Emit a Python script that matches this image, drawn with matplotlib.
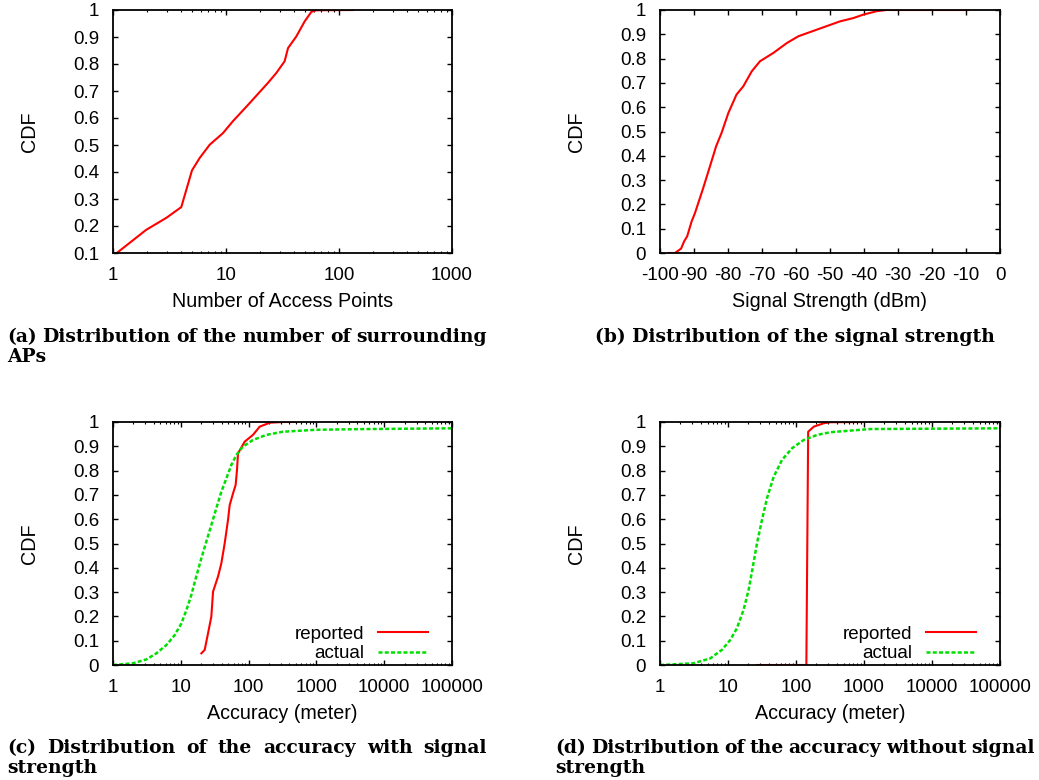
import numpy as np
import matplotlib
matplotlib.use("Agg")
import matplotlib.pyplot as plt
from matplotlib.ticker import LogLocator, NullFormatter

# ---------------- data ----------------
a_x = [1.08, 1.97, 2.96, 4.02, 5.0, 5.85, 7.17, 9.4, 11.5, 15.7, 23.5, 27.9,
       33.0, 35.4, 41.9, 49.7, 56.9, 63, 134]
a_y = [0.10, 0.186, 0.23, 0.27, 0.406, 0.452, 0.501, 0.544, 0.588, 0.649,
       0.73, 0.767, 0.81, 0.859, 0.902, 0.958, 0.993, 0.999, 1.0]

b_x = [-97.5, -95.6, -93.8, -92.9, -92.0, -90.7, -89.7, -87.3, -85.3, -83.5,
       -81.9, -79.9, -77.5, -75.5, -73.0, -70.6, -66.7, -62.7, -59.3, -53.9,
       -47.1, -43.1, -40.2, -36.3, -33.4, -9.3]
b_y = [0, 0, 0.018, 0.048, 0.069, 0.13, 0.165, 0.267, 0.357, 0.439, 0.494,
       0.576, 0.652, 0.686, 0.748, 0.789, 0.823, 0.864, 0.892, 0.919, 0.953,
       0.967, 0.981, 0.995, 1.0, 1.0]

c_rep_x = [20.1, 22.5, 25.2, 28.2, 29.9, 35.4, 39.6, 44.4, 49.7, 52.6, 58.9,
           64.4, 67.4, 69.8, 87.5, 116, 146, 205, 321, 508]
c_rep_y = [0.048, 0.062, 0.13, 0.199, 0.302, 0.364, 0.418, 0.501, 0.597,
           0.658, 0.706, 0.741, 0.802, 0.871, 0.919, 0.947, 0.981, 0.997,
           1.0, 1.0]
c_act_x = [1, 1.97, 3.1, 4.36, 6.12, 8.12, 10.2, 12.1, 14.3, 16.9, 20.1, 23.8,
           28.2, 33.4, 39.6, 47, 55.6, 65.9, 82.6, 116, 183, 321, 1000, 5480,
           100000]
c_act_y = [0, 0.007, 0.023, 0.048, 0.082, 0.123, 0.171, 0.226, 0.288, 0.364,
           0.439, 0.508, 0.576, 0.645, 0.713, 0.768, 0.823, 0.864, 0.899,
           0.926, 0.947, 0.96, 0.968, 0.971, 0.974]

d_rep_x = [26.7, 142, 151, 183, 257, 321, 920]
d_rep_y = [0, 0, 0.96, 0.981, 0.995, 0.999, 1.0]
d_act_x = [1, 3.1, 5.46, 8.12, 10.8, 13.5, 16.9, 20.1, 22.5, 26.7, 31.6, 37.4,
           47, 62.3, 87.5, 130, 205, 321, 1220, 100000]
d_act_y = [0, 0.007, 0.027, 0.062, 0.103, 0.151, 0.226, 0.309, 0.384, 0.501,
           0.597, 0.686, 0.775, 0.844, 0.892, 0.926, 0.947, 0.958, 0.971,
           0.974]

a_xticks = [1, 10, 100, 1000]
a_xticklabels = ["1", "10", "100", "1000"]
b_xticks = [-100, -90, -80, -70, -60, -50, -40, -30, -20, -10, 0]
b_xticklabels = ["-100", "-90", "-80", "-70", "-60", "-50", "-40", "-30",
                 "-20", "-10", "0"]
acc_xticks = [1, 10, 100, 1000, 10000, 100000]
acc_xticklabels = ["1", "10", "100", "1000", "10000", "100000"]
cdf_ticks_a = [0.1, 0.2, 0.3, 0.4, 0.5, 0.6, 0.7, 0.8, 0.9, 1.0]
cdf_ticks = [0, 0.1, 0.2, 0.3, 0.4, 0.5, 0.6, 0.7, 0.8, 0.9, 1.0]
cdf_ticklabels_a = ["0.1", "0.2", "0.3", "0.4", "0.5", "0.6", "0.7", "0.8",
                    "0.9", "1"]
cdf_ticklabels = ["0"] + cdf_ticklabels_a

captions = {
    "a": ["(a) Distribution of the number of surrounding", "APs"],
    "b": ["(b) Distribution of the signal strength"],
    "c": ["(c) Distribution of the accuracy with signal", "strength"],
    "d": ["(d) Distribution of the accuracy without signal", "strength"],
}

# ---------------- style ----------------
RED = "#ff0000"
GREEN = "#00e000"
FS = 13.5
LFS = 14.2
SANS = ["Liberation Sans", "DejaVu Sans"]
plt.rcParams["font.family"] = SANS
plt.rcParams["font.size"] = FS

W, H = 1039, 780
fig = plt.figure(figsize=(W / 100, H / 100), dpi=100)


def px_axes(l, t, r, b):
    return fig.add_axes([l / W, 1 - b / H, (r - l) / W, (b - t) / H])


ax_a = px_axes(113, 10, 452, 253)
ax_b = px_axes(660, 10, 1000, 253)
ax_c = px_axes(113, 422, 452, 665)
ax_d = px_axes(660, 422, 1000, 665)


def style(ax, xlabel):
    for s in ax.spines.values():
        s.set_linewidth(1.3)
    ax.tick_params(which="major", direction="in", top=True, right=True,
                   length=3.3, width=1, labelsize=FS, pad=10)
    ax.tick_params(which="minor", direction="in", top=True, right=True,
                   length=1.7, width=0.8)
    ax.set_ylabel("CDF", fontsize=LFS)
    ax.yaxis.set_label_coords(-0.218, 0.5)
    ax.set_xlabel(xlabel, fontsize=LFS)
    ax.xaxis.set_label_coords(0.5, -0.16)


# (a)
ax_a.plot(a_x, a_y, color=RED, lw=1.5)
ax_a.set_xscale("log")
ax_a.set_xlim(1, 1000)
ax_a.set_ylim(0.1, 1)
ax_a.set_xticks(a_xticks)
ax_a.set_xticklabels(a_xticklabels)
ax_a.xaxis.set_minor_locator(LogLocator(base=10, subs=np.arange(2, 10)))
ax_a.xaxis.set_minor_formatter(NullFormatter())
ax_a.set_yticks(cdf_ticks_a)
ax_a.set_yticklabels(cdf_ticklabels_a)
style(ax_a, "Number of Access Points")

# (b)
ax_b.plot(b_x, b_y, color=RED, lw=1.5)
ax_b.set_xlim(-100, 0)
ax_b.set_ylim(0, 1)
ax_b.set_xticks(b_xticks)
ax_b.set_xticklabels(b_xticklabels)
ax_b.set_yticks(cdf_ticks)
ax_b.set_yticklabels(cdf_ticklabels)
style(ax_b, "Signal Strength (dBm)")

# (c), (d)
for ax, rx, ry, gx, gy in [(ax_c, c_rep_x, c_rep_y, c_act_x, c_act_y),
                           (ax_d, d_rep_x, d_rep_y, d_act_x, d_act_y)]:
    ax.plot(rx, ry, color=RED, lw=1.5, label="reported")
    ax.plot(gx, gy, color=GREEN, lw=1.8, ls=(0, (1.6, 0.9)), label="actual")
    ax.set_xscale("log")
    ax.set_xlim(1, 100000)
    ax.set_ylim(0, 1)
    ax.set_xticks(acc_xticks)
    ax.set_xticklabels(acc_xticklabels)
    ax.xaxis.set_minor_locator(LogLocator(base=10, subs=np.arange(2, 10)))
    ax.xaxis.set_minor_formatter(NullFormatter())
    ax.set_yticks(cdf_ticks)
    ax.set_yticklabels(cdf_ticklabels)
    style(ax, "Accuracy (meter)")
    ax.legend(loc="lower right", bbox_to_anchor=(0.929, 0.012), frameon=False,
              markerfirst=False, handlelength=2.67, handletextpad=0.7,
              labelspacing=0.12, borderpad=0, borderaxespad=0, fontsize=FS)

# ---------------- captions ----------------
renderer = fig.canvas.get_renderer()
CAP_FAMILY = ["DejaVu Serif"]
probe = fig.text(0, 0, captions["b"][0], family=CAP_FAMILY,
                 fontweight="bold", fontsize=10)
cap_fs = 10 * 401.0 / probe.get_window_extent(renderer).width
probe.remove()
CAP_FONT = dict(family=CAP_FAMILY, fontweight="bold", fontsize=cap_fs)


def justified(text, x0, x1, y):
    words = text.split(" ")
    widths = []
    objs = []
    for w in words:
        t = fig.text(0, 0, w, transform=None, va="center", ha="left", **CAP_FONT)
        widths.append(t.get_window_extent(renderer).width)
        objs.append(t)
    gap = (x1 - x0 - sum(widths)) / (len(words) - 1)
    x = x0
    for t, w in zip(objs, widths):
        t.set_position((x, H - y))
        x += w + gap


def plain(text, x, y, ha="left"):
    fig.text(x / W, 1 - y / H, text, ha=ha, va="center", **CAP_FONT)


justified(captions["a"][0], 7, 487, 337)
plain(captions["a"][1], 7, 357)
plain(captions["b"][0], 795, 337, ha="center")
justified(captions["c"][0], 7, 487, 748)
plain(captions["c"][1], 7, 768)
justified(captions["d"][0], 555, 1035, 748)
plain(captions["d"][1], 555, 768)

fig.savefig("out.png", dpi=100)
